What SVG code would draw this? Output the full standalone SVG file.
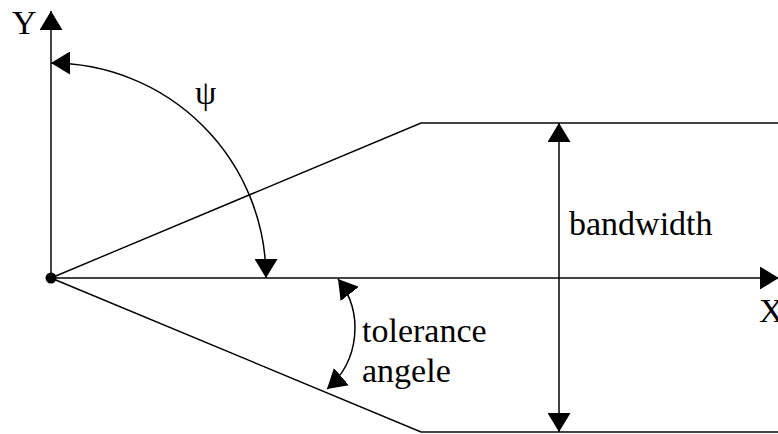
<svg xmlns="http://www.w3.org/2000/svg" width="778" height="434" viewBox="0 0 778 434">
<style>
.t{font-family:"Liberation Serif","Times New Roman",serif;font-size:34px;fill:#000}
.ax{stroke:#444;stroke-width:2;fill:none}
.ln{stroke:#000;stroke-width:1.4;fill:none}
.arc{stroke:#000;stroke-width:1.5;fill:none;marker-start:url(#ah);marker-end:url(#ah)}
</style>
<defs>
<marker id="ah" viewBox="-19 -11.5 19 23" refX="0" refY="0" markerWidth="19" markerHeight="23" markerUnits="userSpaceOnUse" orient="auto-start-reverse">
<path d="M0,0 L-19,-11.5 L-19,11.5 Z" fill="#000"/>
</marker>
</defs>
<rect width="778" height="434" fill="#fff"/>
<g id="connectors">
<line class="ax" x1="51" y1="278" x2="51" y2="11" marker-end="url(#ah)"/>
<line class="ax" x1="51" y1="278" x2="779" y2="278" marker-end="url(#ah)"/>
<polyline class="ln" points="51,278 421,123 778,123" style="stroke:#000"/>
<line class="ax" x1="421" y1="123" x2="778" y2="123"/>
<polyline class="ln" points="51,278 421,432 778,432"/>
<line class="ax" x1="421" y1="432" x2="778" y2="432"/>
<line class="arc" x1="559" y1="123" x2="559" y2="432"/>
<path class="arc" d="M51,63 A215,215 0 0 1 266,278"/>
<path class="arc" d="M338,279 A80,80 0 0 1 327,389"/>
</g>
<g id="origin"><circle cx="51" cy="278" r="5.5" fill="#000"/></g>
<g id="label-y"><text class="t" x="12" y="34">Y</text></g>
<g id="label-x"><text class="t" x="759" y="322">X</text></g>
<g id="label-psi"><text class="t" x="195" y="104">ψ</text></g>
<g id="label-bandwidth"><text class="t" x="569" y="235">bandwidth</text></g>
<g id="label-tolerance"><text class="t" x="362" y="342">tolerance</text><text class="t" x="362" y="382">angele</text></g>
</svg>
